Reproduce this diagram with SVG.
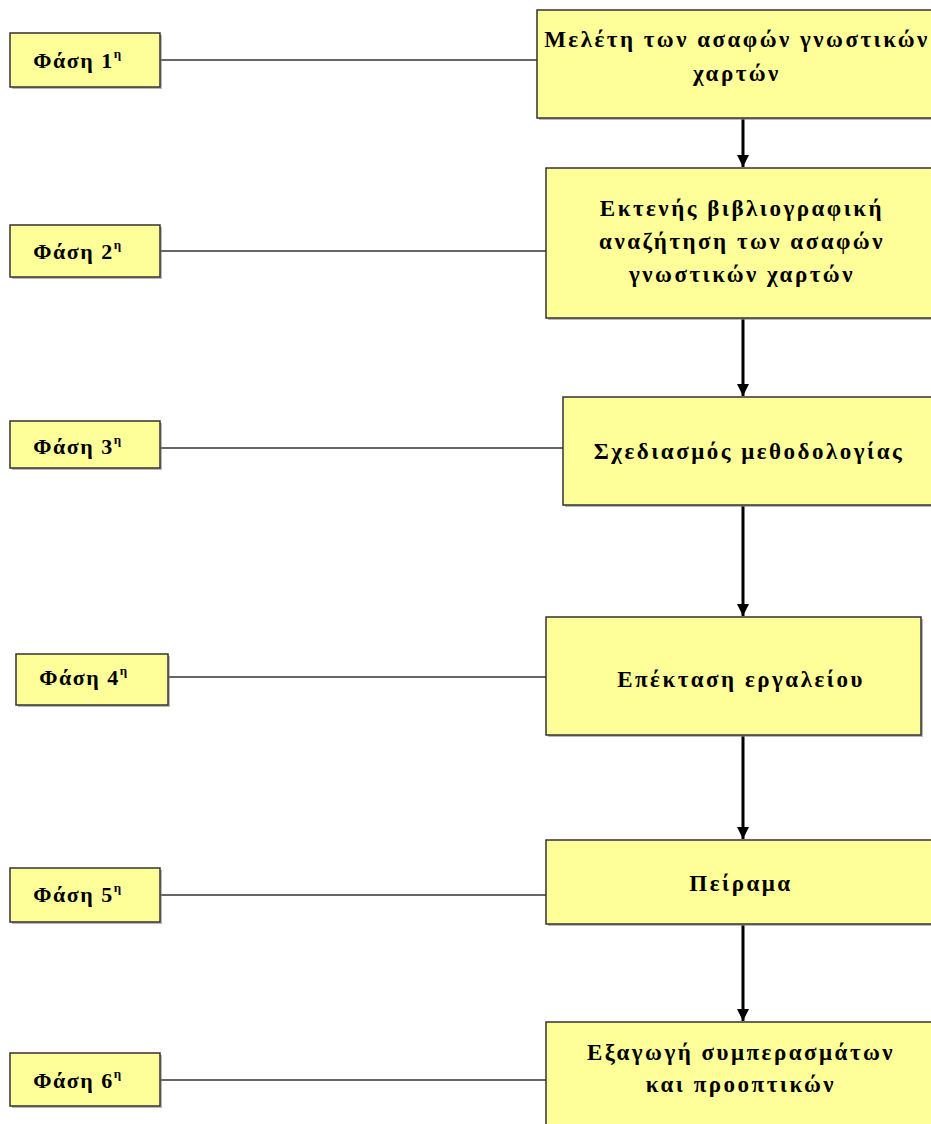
<svg xmlns="http://www.w3.org/2000/svg" width="931" height="1124" viewBox="0 0 931 1124">
<style>
.box{fill:#ffff99;stroke:#333;stroke-width:1.5}
.sh{fill:#888;opacity:0.6}
.ph{font-family:"Liberation Serif","DejaVu Serif",serif;font-weight:bold;font-size:22px;fill:#000;text-anchor:middle;letter-spacing:1.5px}
.tx{font-family:"Liberation Serif","DejaVu Serif",serif;font-weight:bold;font-size:23px;fill:#000;text-anchor:middle;letter-spacing:2.5px}
.ln{stroke:#666;stroke-width:2;fill:none}
.ar{stroke:#000;stroke-width:3;fill:none;marker-end:url(#ah)}
</style>
<defs>
<marker id="ah" viewBox="0 0 10 10" refX="10" refY="5" markerWidth="4" markerHeight="5" markerUnits="strokeWidth" orient="auto">
<path d="M0,0 L10,5 L0,10 z" fill="#000"/>
</marker>
</defs>
<rect width="931" height="1124" fill="#fff"/>
<g id="connectors">
<line class="ln" x1="160" y1="60" x2="537" y2="60"/>
<line class="ln" x1="160" y1="251" x2="546" y2="251"/>
<line class="ln" x1="160" y1="448" x2="563" y2="448"/>
<line class="ln" x1="168" y1="677" x2="546" y2="677"/>
<line class="ln" x1="160" y1="895" x2="546" y2="895"/>
<line class="ln" x1="160" y1="1080" x2="546" y2="1080"/>
<line class="ar" x1="743" y1="119" x2="743" y2="167"/>
<line class="ar" x1="743" y1="319" x2="743" y2="396"/>
<line class="ar" x1="743" y1="506" x2="743" y2="616"/>
<line class="ar" x1="743" y1="736" x2="743" y2="839"/>
<line class="ar" x1="743" y1="925" x2="743" y2="1021"/>
</g>
<g id="phase1"><rect class="sh" x="12" y="35" width="150" height="54"/><rect class="box" x="10" y="33" width="150" height="54"/><text class="ph" x="78" y="68">Φάση 1<tspan font-size="13" dy="-10">η</tspan></text></g>
<g id="phase2"><rect class="sh" x="12" y="227" width="150" height="52"/><rect class="box" x="10" y="225" width="150" height="52"/><text class="ph" x="78" y="259">Φάση 2<tspan font-size="13" dy="-10">η</tspan></text></g>
<g id="phase3"><rect class="sh" x="12" y="423" width="150" height="47"/><rect class="box" x="10" y="421" width="150" height="47"/><text class="ph" x="78" y="454">Φάση 3<tspan font-size="13" dy="-10">η</tspan></text></g>
<g id="phase4"><rect class="sh" x="18" y="656" width="152" height="51"/><rect class="box" x="16" y="654" width="152" height="51"/><text class="ph" x="84" y="685">Φάση 4<tspan font-size="13" dy="-10">η</tspan></text></g>
<g id="phase5"><rect class="sh" x="12" y="870" width="150" height="54"/><rect class="box" x="10" y="868" width="150" height="54"/><text class="ph" x="78" y="902">Φάση 5<tspan font-size="13" dy="-10">η</tspan></text></g>
<g id="phase6"><rect class="sh" x="12" y="1055" width="150" height="53"/><rect class="box" x="10" y="1053" width="150" height="53"/><text class="ph" x="78" y="1088">Φάση 6<tspan font-size="13" dy="-10">η</tspan></text></g>
<g id="step1"><rect class="sh" x="539" y="12" width="400" height="108"/><rect class="box" x="537" y="10" width="400" height="108"/><text class="tx" x="737" y="47">Μελέτη των ασαφών γνωστικών</text><text class="tx" x="737" y="81">χαρτών</text></g>
<g id="step2"><rect class="sh" x="548" y="170" width="390" height="150"/><rect class="box" x="546" y="168" width="390" height="150"/><text class="tx" x="742" y="216">Εκτενής βιβλιογραφική</text><text class="tx" x="742" y="249">αναζήτηση των ασαφών</text><text class="tx" x="742" y="282">γνωστικών χαρτών</text></g>
<g id="step3"><rect class="sh" x="565" y="399" width="380" height="108"/><rect class="box" x="563" y="397" width="380" height="108"/><text class="tx" x="749" y="459">Σχεδιασμός μεθοδολογίας</text></g>
<g id="step4"><rect class="sh" x="548" y="619" width="375" height="118"/><rect class="box" x="546" y="617" width="375" height="118"/><text class="tx" x="741" y="687">Επέκταση εργαλείου</text></g>
<g id="step5"><rect class="sh" x="548" y="842" width="390" height="84"/><rect class="box" x="546" y="840" width="390" height="84"/><text class="tx" x="741" y="891">Πείραμα</text></g>
<g id="step6"><rect class="sh" x="548" y="1024" width="390" height="110"/><rect class="box" x="546" y="1022" width="390" height="110"/><text class="tx" x="741" y="1060">Εξαγωγή συμπερασμάτων</text><text class="tx" x="741" y="1092">και προοπτικών</text></g>
</svg>
